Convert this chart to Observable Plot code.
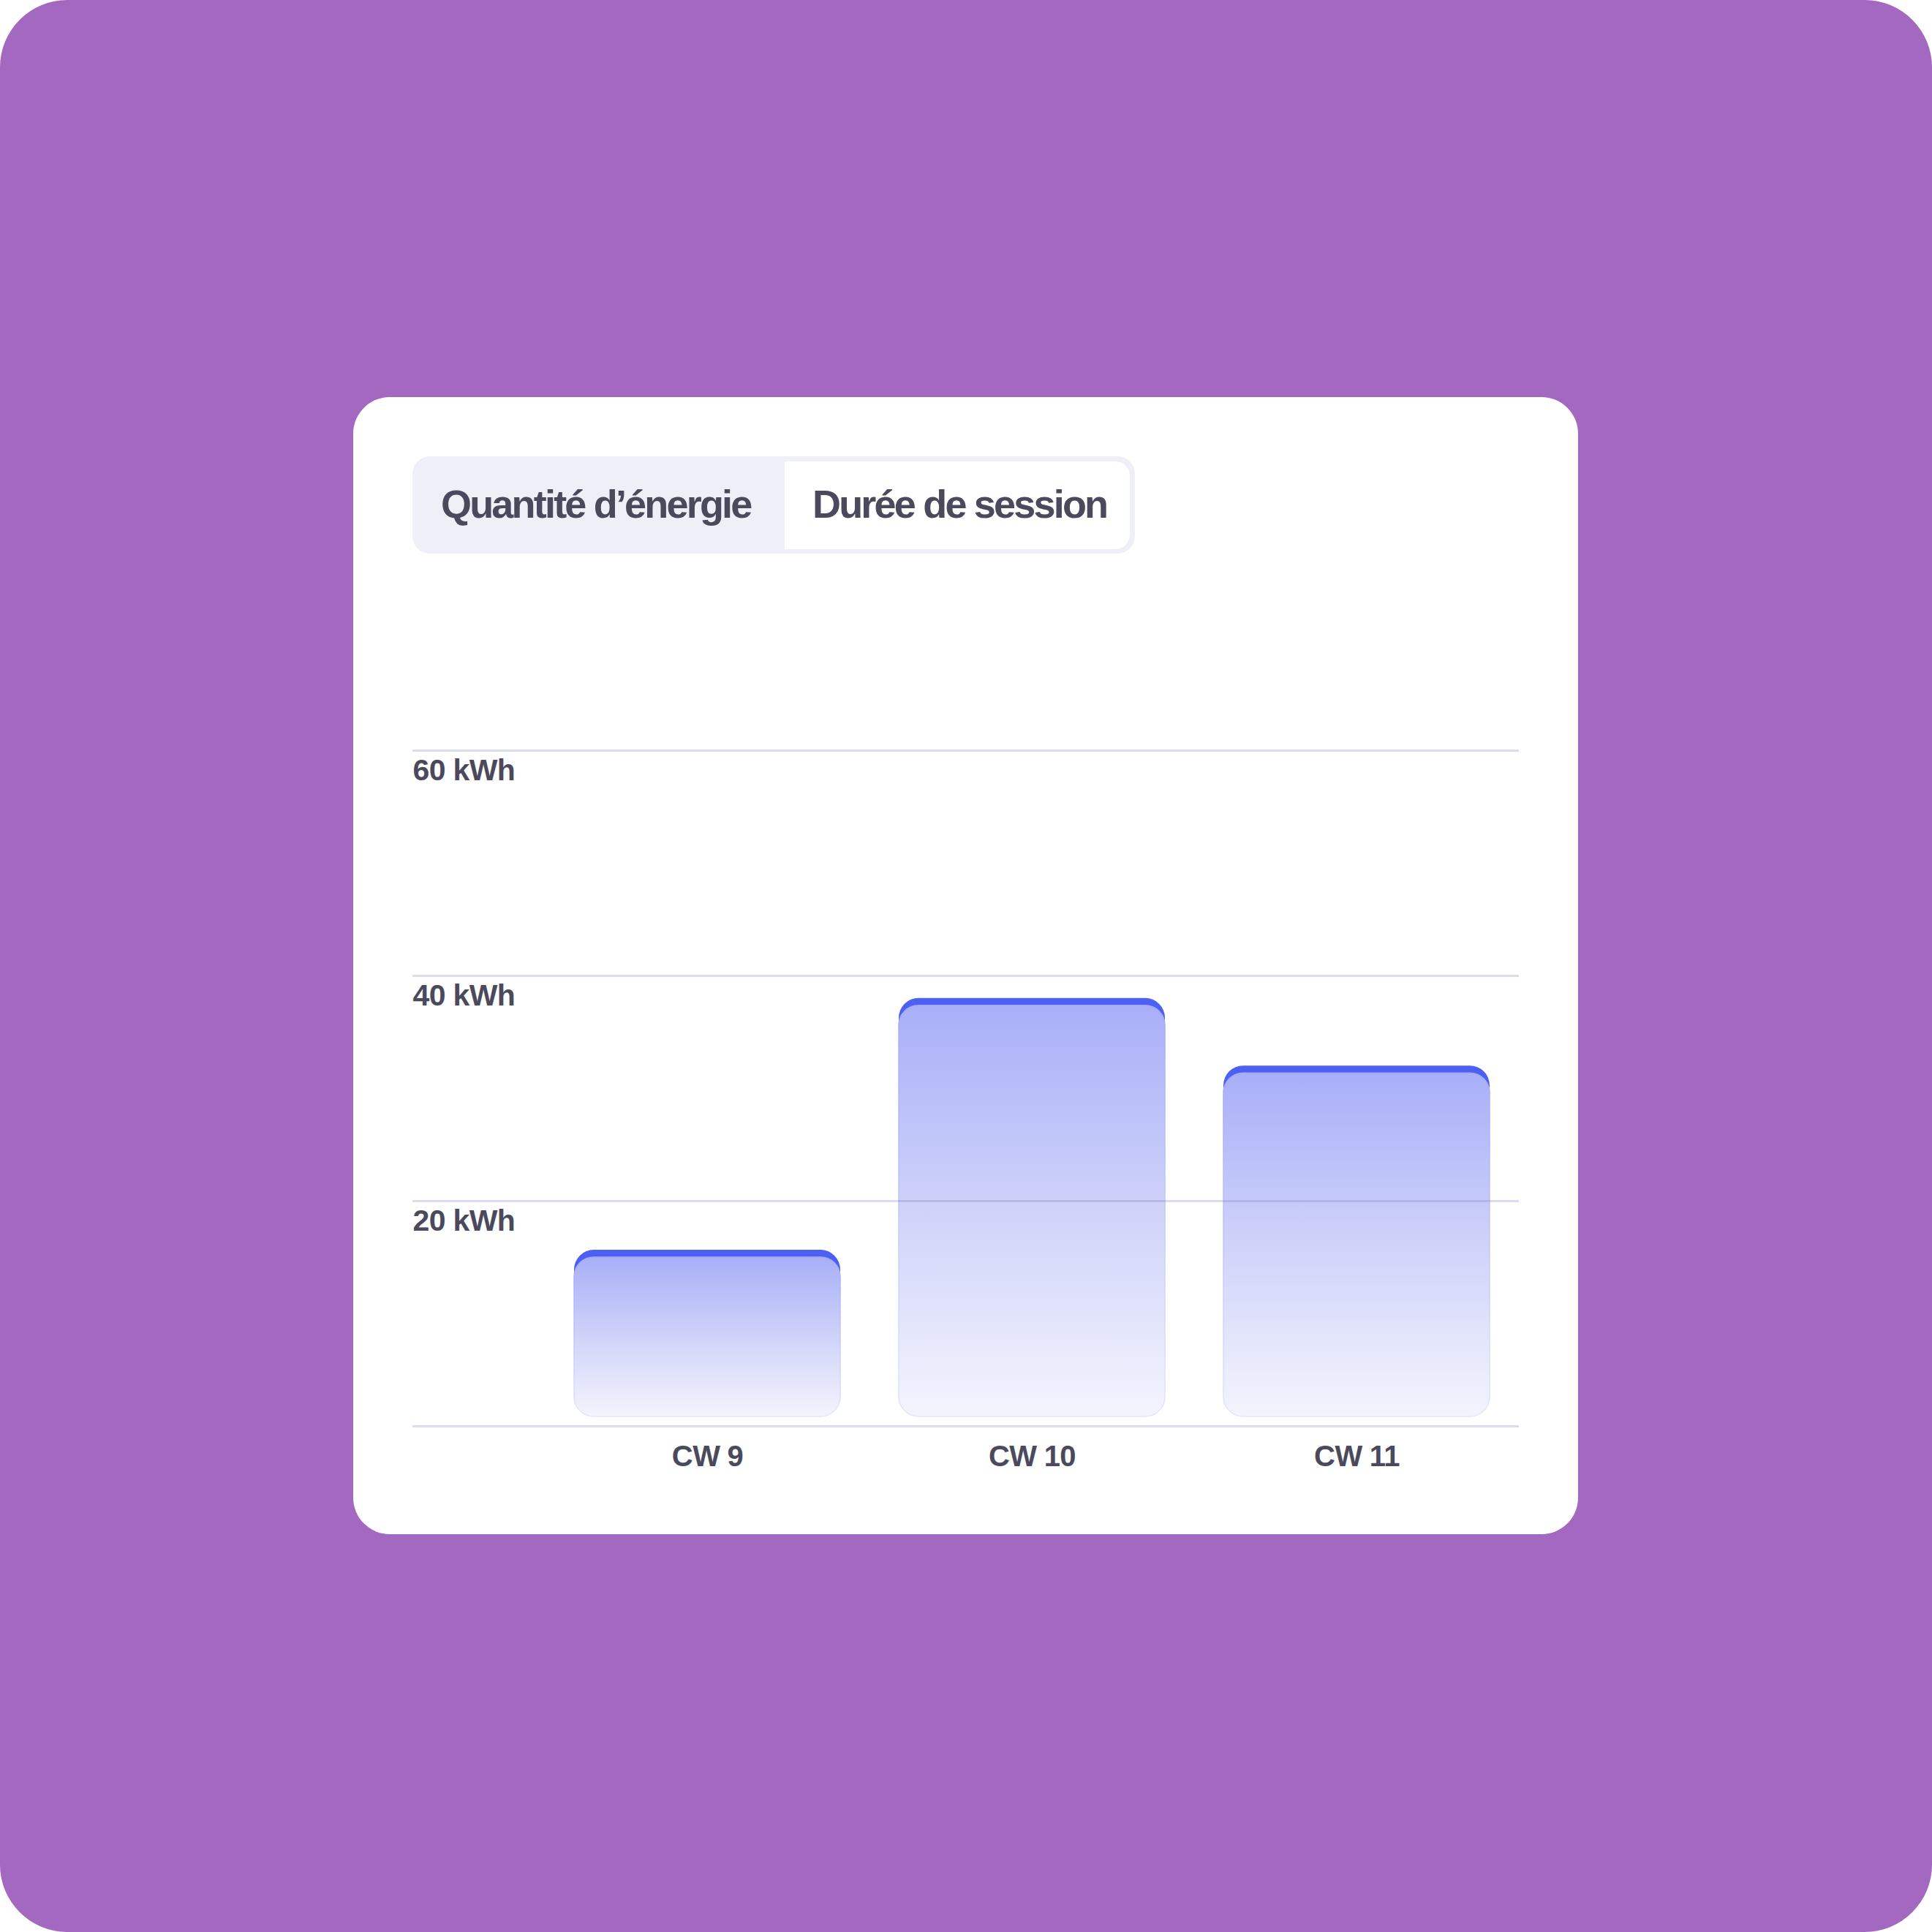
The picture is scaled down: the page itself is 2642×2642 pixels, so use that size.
<!DOCTYPE html>
<html>
<head>
<meta charset="utf-8">
<script src="https://cdn.jsdelivr.net/npm/d3@7"></script>
<script src="https://cdn.jsdelivr.net/npm/@observablehq/plot@0.6"></script>
<style>
  html, body { margin: 0; padding: 0; background: #ffffff; }
  #page { position: relative; width: 2642px; height: 2642px; background: #a368c0; border-radius: 92px; overflow: hidden;
          font-family: "Liberation Sans", Arial, sans-serif; }
  #card { position: absolute; left: 483px; top: 543px; width: 1675px; height: 1555px; background: #ffffff; border-radius: 50px; }
  #tabs { position: absolute; left: 81px; top: 81px; width: 988px; height: 133px; background: #efeff7; border-radius: 24px; }
  #active { position: absolute; left: 509px; top: 7px; width: 472px; height: 120px; background: #ffffff; border-radius: 0 20px 20px 0; }
  .tab { position: absolute; top: 38px; font-size: 54px; line-height: 54px; font-weight: 700; color: #4b4a5c;
         letter-spacing: -0.052em; white-space: nowrap; }
  #chart { position: absolute; left: 0; top: 0; }
</style>
</head>
<body>
<div id="page">
  <div id="card">
    <div id="tabs">
      <div id="active"></div>
      <span class="tab" id="tab1" style="left:39px"></span>
      <span class="tab" id="tab2" style="left:547px"></span>
    </div>
    <div id="chart"></div>
  </div>
</div>
<script>
// ---- data ----
const tabLabels = ["Quantité d’énergie", "Durée de session"];
const weeks = ["CW 9", "CW 10", "CW 11"];
const energy = [15.65, 38, 32];          // kWh
const yTicks = [20, 40, 60];
const gridValues = [0, 20, 40, 60];
const unit = "kWh";

document.getElementById("tab1").textContent = tabLabels[0];
document.getElementById("tab2").textContent = tabLabels[1];

const data = weeks.map((w, i) => ({week: w, value: energy[i]}));

const plot = Plot.plot({
  width: 1675,
  height: 1555,
  marginLeft: 81,
  marginRight: 81,
  marginTop: 483,
  marginBottom: 148,
  style: {
    background: "transparent",
    color: "#4b4a5c",
    fontFamily: "'Liberation Sans', Arial, sans-serif",
    fontWeight: 700,
    letterSpacing: "-0.055em",
    wordSpacing: "-0.04em"
  },
  x: {type: "band", domain: weeks, range: [302, 1555], paddingInner: 0.18, paddingOuter: 0},
  y: {domain: [0, 60]},
  marks: [
    Plot.barY(data, {x: "week", y: "value", fill: "#4c60f4", rx: 27, ry: 27, insetBottom: 13}),
    Plot.barY(data, {x: "week", y: "value", fill: "url(#barFill)", stroke: "url(#barStroke)", strokeWidth: 1.5,
                     rx: 27, ry: 27, insetTop: 10, insetBottom: 13}),
    Plot.ruleY(gridValues, {stroke: "rgb(115,115,185)", strokeOpacity: 0.25, strokeWidth: 3}),
    Plot.axisY(yTicks, {anchor: "left", label: null, tickSize: 0, tickPadding: 0, textAnchor: "start", lineAnchor: "top",
                        dy: 11, dx: 0, fontSize: 41, fontWeight: 700, tickFormat: d => `${d} ${unit}`}),
    Plot.axisX({anchor: "bottom", label: null, tickSize: 0, tickPadding: 26, fontSize: 40, fontWeight: 700})
  ]
});

// gradients for bar fill
const ns = "http://www.w3.org/2000/svg";
const defs = document.createElementNS(ns, "defs");
function grad(id, stops) {
  const lg = document.createElementNS(ns, "linearGradient");
  lg.setAttribute("id", id);
  lg.setAttribute("x1", "0"); lg.setAttribute("y1", "0");
  lg.setAttribute("x2", "0"); lg.setAttribute("y2", "1");
  for (const [o, c] of stops) {
    const s = document.createElementNS(ns, "stop");
    s.setAttribute("offset", o);
    s.setAttribute("stop-color", c);
    lg.appendChild(s);
  }
  defs.appendChild(lg);
}
grad("barFill", [["0", "#a8aff8"], ["0.5", "#cfd3f9"], ["1", "#f4f4fd"]]);
grad("barStroke", [["0", "#a3aaf4"], ["1", "#e4e6fa"]]);
plot.insertBefore(defs, plot.firstChild);

document.getElementById("chart").appendChild(plot);
</script>
</body>
</html>
